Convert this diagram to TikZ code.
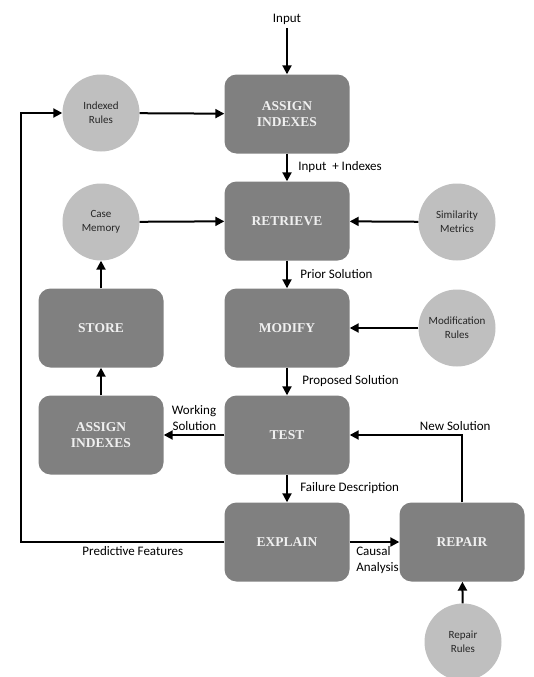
\documentclass[tikz,border=0pt]{standalone}
\usepackage{fontspec}
\setmainfont{Carlito}
\newfontfamily\boxfont{Liberation Serif}
\usetikzlibrary{arrows.meta}
\definecolor{boxgray}{RGB}{128,128,128}
\definecolor{dotgray}{RGB}{191,191,191}
\definecolor{boxtext}{RGB}{240,240,240}

\begin{document}
\begin{tikzpicture}[x=1pt, y=-1pt,
    process/.style={fill=boxgray, rounded corners=12pt, minimum width=125pt,
        minimum height=79pt, align=center, text=boxtext,
        font=\boxfont\bfseries\fontsize{13.5}{16}\selectfont},
    source/.style={circle, fill=dotgray, minimum size=77pt, inner sep=0pt,
        align=center, text=black!85, font=\fontsize{11}{14}\selectfont},
    flow/.style={-{Triangle[length=9pt,width=9pt]}, line width=2pt},
    lbl/.style={font=\fontsize{13}{16}\selectfont}]
    \useasboundingbox (0,0) rectangle (534,677);
    % Processes
    \node[process] (assign1) at (287,114) {ASSIGN\\INDEXES};
    \node[process] (retrieve) at (287,221) {RETRIEVE};
    \node[process] (modify) at (287,328) {MODIFY};
    \node[process] (test) at (287,435) {TEST};
    \node[process] (explain) at (287,542) {EXPLAIN};
    \node[process] (repair) at (462,542) {REPAIR};
    \node[process] (store) at (101,328) {STORE};
    \node[process] (assign2) at (101,435) {ASSIGN\\INDEXES};
    % Knowledge sources
    \node[source] (rules) at (101,113) {Indexed\\Rules};
    \node[source] (memory) at (101,222) {Case\\Memory};
    \node[source] (similar) at (457,222) {Similarity\\Metrics};
    \node[source] (modrules) at (457,328) {Modification\\Rules};
    \node[source] (reprules) at (463,642) {Repair\\Rules};
    \node[lbl] (input) at (287,19) {Input};
    \coordinate (lft) at (21,0);
    % Main flow
    \draw[flow] (input) -- (assign1);
    \draw[flow] (assign1) -- node[lbl, right, xshift=7pt] {Input\ \ + Indexes} (retrieve);
    \draw[flow] (retrieve) -- node[lbl, right, xshift=9pt] {Prior Solution} (modify);
    \draw[flow] (modify) -- node[lbl, right, xshift=11pt] {Proposed Solution} (test);
    \draw[flow] (test) -- node[lbl, right, xshift=9pt] {Failure Description} (explain);
    \draw[flow] (test) -- node[lbl, above, align=right] {Working\\Solution} (assign2);
    \draw[flow] (assign2) -- (store);
    \draw[flow] (store) -- (memory);
    \draw[flow] (explain) -- node[lbl, below, align=left, xshift=3pt] {Causal\\Analysis} (repair);
    \draw[flow] (repair) |- node[lbl, above, pos=0.53] {New Solution} (test);
    \draw[flow] (explain) -- node[lbl, below, pos=0.45] {Predictive Features} (explain -| lft) |- (rules);
    % Knowledge inputs
    \draw[flow] (rules) -- (assign1);
    \draw[flow] (memory) -- (retrieve);
    \draw[flow] (similar) -- (retrieve);
    \draw[flow] (modrules) -- (modify);
    \draw[flow] (reprules) -- (repair);
\end{tikzpicture}
\end{document}
